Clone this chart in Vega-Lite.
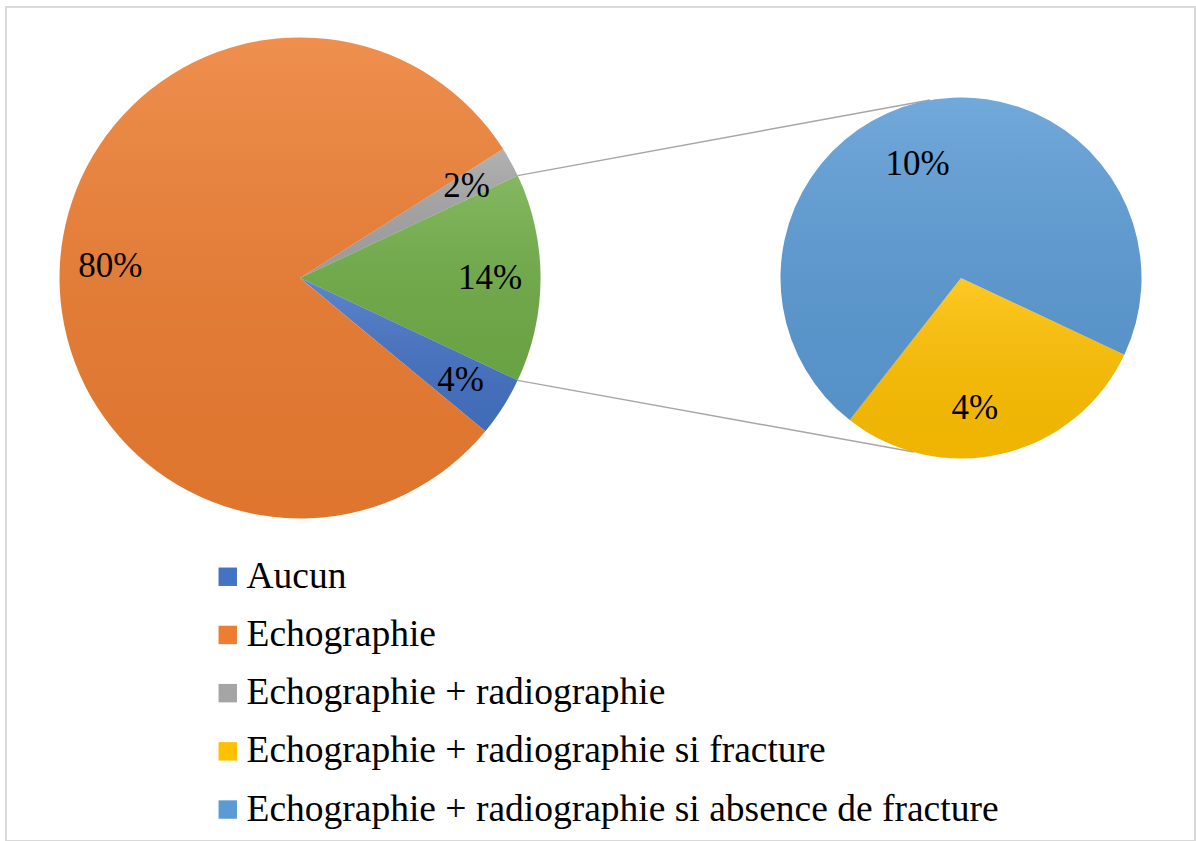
{
  "$schema": "https://vega.github.io/schema/vega-lite/v6.json",
  "width": 1189,
  "height": 834,
  "padding": {"left": 6, "top": 7, "right": 1, "bottom": 0},
  "autosize": {"type": "none"},
  "background": "white",
  "config": {
    "view": {"stroke": "#d9d9d9", "strokeWidth": 2},
    "text": {"font": "Liberation Serif"}
  },
  "datasets": {
    "main": [
      {"cat": "Echographie + radiographie", "v": 2, "o": 1, "label": "2%"},
      {"cat": "Autre", "v": 14, "o": 2, "label": "14%"},
      {"cat": "Aucun", "v": 4, "o": 3, "label": "4%"},
      {"cat": "Echographie", "v": 80, "o": 4, "label": "80%"}
    ],
    "sec": [
      {"cat": "Echographie + radiographie si fracture", "w": 4, "o": 1, "label": "4%"},
      {"cat": "Echographie + radiographie si absence de fracture", "w": 10, "o": 2, "label": "10%"}
    ],
    "links": [
      {"xa": 43.03, "ya": 20.22, "xb": 77.71, "yb": 11.15},
      {"xa": 43.03, "ya": 44.77, "xb": 76.37, "yb": 53.36}
    ]
  },
  "layer": [
    {
      "data": {"name": "links"},
      "mark": {"type": "rule", "color": "#a6a6a6", "strokeWidth": 1.5},
      "encoding": {
        "x": {"field": "xa", "type": "quantitative", "scale": {"domain": [0, 100], "nice": false, "zero": false}, "axis": null},
        "y": {"field": "ya", "type": "quantitative", "scale": {"domain": [0, 100], "nice": false, "zero": false, "reverse": true}, "axis": null},
        "x2": {"field": "xb"},
        "y2": {"field": "yb"}
      }
    },
    {
      "data": {"name": "main"},
      "encoding": {
        "theta": {"field": "v", "type": "quantitative", "stack": true, "scale": {"range": [1.00531, 7.288495]}},
        "order": {"field": "o", "type": "quantitative"},
        "x": {"datum": 24.73, "type": "quantitative"},
        "y": {"datum": 32.49, "type": "quantitative"}
      },
      "layer": [
        {
          "mark": {"type": "arc", "radius": 240.5, "strokeWidth": 0},
          "encoding": {
            "color": {
              "field": "cat", "type": "nominal",
              "scale": {
                "domain": ["Aucun", "Echographie", "Echographie + radiographie", "Echographie + radiographie si fracture", "Echographie + radiographie si absence de fracture", "Autre"],
                "range": ["#4472C4", "#ED7D31", "#A5A5A5", "#FFC000", "#5B9BD5", "#70AD47"]
              },
              "legend": {
                "values": ["Aucun", "Echographie", "Echographie + radiographie", "Echographie + radiographie si fracture", "Echographie + radiographie si absence de fracture"],
                "title": null,
                "orient": "none",
                "legendX": 203,
                "legendY": 551,
                "padding": 0,
                "symbolType": "square",
                "symbolSize": 340,
                "symbolStrokeWidth": 0,
                "labelFont": "Liberation Serif",
                "labelFontSize": 37.5,
                "labelColor": "#000000",
                "labelLimit": 1000,
                "labelOffset": 0,
                "rowPadding": 19.2
              }
            }
          }
        },
        {
          "mark": {
            "type": "arc", "radius": 240.5, "strokeWidth": 0,
            "fill": {"gradient": "linear", "x1": 0, "y1": 0, "x2": 0, "y2": 1,
              "stops": [{"offset": 0, "color": "rgba(255,255,255,0.14)"}, {"offset": 1, "color": "rgba(0,0,0,0.06)"}]}
          }
        },
        {
          "mark": {"type": "text", "radius": 190, "fontSize": 35, "color": "#000000", "align": "center", "baseline": "middle"},
          "encoding": {"text": {"field": "label"}}
        }
      ]
    },
    {
      "data": {"name": "sec"},
      "encoding": {
        "theta": {"field": "w", "type": "quantitative", "stack": true, "scale": {"range": [2.010619, 8.293805]}},
        "order": {"field": "o", "type": "quantitative"},
        "x": {"datum": 80.32, "type": "quantitative"},
        "y": {"datum": 32.49, "type": "quantitative"}
      },
      "layer": [
        {
          "mark": {"type": "arc", "radius": 180.5, "strokeWidth": 0},
          "encoding": {"color": {"field": "cat", "type": "nominal"}}
        },
        {
          "mark": {
            "type": "arc", "radius": 180.5, "strokeWidth": 0,
            "fill": {"gradient": "linear", "x1": 0, "y1": 0, "x2": 0, "y2": 1,
              "stops": [{"offset": 0, "color": "rgba(255,255,255,0.14)"}, {"offset": 1, "color": "rgba(0,0,0,0.06)"}]}
          }
        },
        {
          "mark": {"type": "text", "radius": 122, "thetaOffset": -0.131, "fontSize": 35, "color": "#000000", "align": "center", "baseline": "middle"},
          "encoding": {"text": {"condition": {"test": "datum.o == 2", "field": "label"}, "value": ""}}
        },
        {
          "mark": {"type": "text", "radius": 131, "thetaOffset": 0.127, "fontSize": 35, "color": "#000000", "align": "center", "baseline": "middle"},
          "encoding": {"text": {"condition": {"test": "datum.o == 1", "field": "label"}, "value": ""}}
        }
      ]
    }
  ],
  "resolve": {"scale": {"theta": "independent"}}
}
